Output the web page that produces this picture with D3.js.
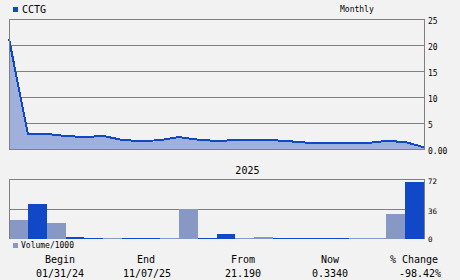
<!DOCTYPE html>
<html>
<head>
<meta charset="utf-8">
<script src="https://cdn.jsdelivr.net/npm/d3@7"></script>
<style>
  body { margin: 0; background: #f2f2f2; }
  svg { display: block; }
  text { font-family: "DejaVu Sans Mono", monospace; fill: #000; }
</style>
</head>
<body>
<div id="chart"></div>
<script>
// month-end points, Jan 24 .. Nov 25
var months = ["2024-01", "2024-02", "2024-03", "2024-04", "2024-05", "2024-06", "2024-07",
    "2024-08", "2024-09", "2024-10", "2024-11", "2024-12", "2025-01", "2025-02", "2025-03",
    "2025-04", "2025-05", "2025-06", "2025-07", "2025-08", "2025-09", "2025-10", "2025-11"];
var prices = [21.19, 2.9, 2.9, 2.5, 2.3, 2.5, 1.75, 1.5, 1.7, 2.3, 1.8, 1.55, 1.7, 1.7, 1.7,
    1.45, 1.15, 1.15, 1.15, 1.15, 1.55, 1.35, 0.334];
// volume/1000 per month, Feb 24 .. Nov 25
var volumes = [23, 42, 19, 2.4, 1.2, 1.2, 1.2, 1.2, 1.2, 36.5, 1.2, 6, 1.2, 2.4, 1.2, 1.2,
    1.2, 1.2, 1.2, 1.2, 30, 68];
var volumeUp = [1, 0, 1, 0, 0, 1, 0, 0, 1, 1, 0, 0, 1, 1, 0, 0, 0, 0, 1, 1, 1, 0];
var priceTicks = [0, 5, 10, 15, 20, 25];
var volumeTicks = [0, 36, 72];

var summaryLabels = ["Begin", "End", "From", "Now", "% Change"];
var summaryValues = ["01/31/24", "11/07/25", "21.190", "0.3340", "-98.42%"];

var W = 460, H = 280;
var blue = "#1048c8", lightFill = "#a0b0dc", lightBar = "#8798c4", grid = "#808080";

var svg = d3.select("#chart").append("svg")
    .attr("width", W)
    .attr("height", H);

svg.append("rect").attr("width", W).attr("height", H).attr("fill", "#f2f2f2");

var x = d3.scalePoint()
    .domain(months)
    .range([9, 424]);

var y = d3.scaleLinear()
    .domain([0, 25])
    .range([149, 19]);

var yVol = d3.scaleLinear()
    .domain([0, 72])
    .range([239, 179]);

// ---- price panel
var price = svg.append("g");

price.selectAll(".grid")
    .data(priceTicks)
    .enter()
    .append("line")
    .attr("x1", 9).attr("x2", 424)
    .attr("y1", function (d) { return Math.round(y(d)) + 0.5; })
    .attr("y2", function (d) { return Math.round(y(d)) + 0.5; })
    .attr("stroke", grid)
    .attr("shape-rendering", "crispEdges");

var pts = months.map(function (m, i) { return [m, prices[i]]; });

price.append("path")
    .datum(pts)
    .attr("d", d3.area()
        .x(function (d) { return x(d[0]); })
        .y0(y(0))
        .y1(function (d) { return y(d[1]) + 1; }))
    .attr("fill", lightFill)
    .attr("shape-rendering", "crispEdges");

price.append("path")
    .datum(pts)
    .attr("d", d3.line()
        .x(function (d) { return x(d[0]); })
        .y(function (d) { return y(d[1]); }))
    .attr("fill", "none")
    .attr("stroke", blue)
    .attr("stroke-width", 2)
    .attr("shape-rendering", "crispEdges");

price.append("path")
    .attr("d", "M9.5," + y(25) + "V" + (y(0) + 0.5) + "H424.5V" + y(25))
    .attr("fill", "none")
    .attr("stroke", grid)
    .attr("shape-rendering", "crispEdges");

price.selectAll(".ylab")
    .data(priceTicks)
    .enter()
    .append("text")
    .attr("x", 428)
    .attr("y", function (d) { return y(d) + 5; })
    .attr("font-size", 8)
    .text(function (d) { return d === 0 ? "0.00" : d; });

svg.append("rect")
    .attr("x", 13).attr("y", 7).attr("width", 5).attr("height", 5)
    .attr("fill", blue);
svg.append("text")
    .attr("x", 22).attr("y", 13)
    .attr("font-size", 10)
    .text("CCTG");
svg.append("text")
    .attr("x", 340).attr("y", 12)
    .attr("font-size", 8)
    .text("Monthly");

// ---- volume panel
var vol = svg.append("g");

vol.selectAll(".vgrid")
    .data(volumeTicks.filter(function (d) { return d > 0; }))
    .enter()
    .append("line")
    .attr("x1", 9).attr("x2", 424)
    .attr("y1", function (d) { return Math.round(yVol(d)) + 0.5; })
    .attr("y2", function (d) { return Math.round(yVol(d)) + 0.5; })
    .attr("stroke", grid)
    .attr("shape-rendering", "crispEdges");

vol.selectAll(".bar")
    .data(volumes)
    .enter()
    .append("rect")
    .attr("x", function (d, i) { return x(months[i]); })
    .attr("width", function (d, i) { return x(months[i + 1]) - x(months[i]); })
    .attr("y", function (d) { return yVol(d); })
    .attr("height", function (d) { return yVol(0) - yVol(d); })
    .attr("fill", function (d, i) { return volumeUp[i] ? lightBar : blue; })
    .attr("shape-rendering", "crispEdges");

vol.append("path")
    .attr("d", "M9.5,239V179.5H424.5V239")
    .attr("fill", "none")
    .attr("stroke", grid)
    .attr("shape-rendering", "crispEdges");

vol.selectAll(".vlab")
    .data(volumeTicks)
    .enter()
    .append("text")
    .attr("x", 428)
    .attr("y", function (d) { return yVol(d) + (d === 0 ? 3 : 5); })
    .attr("font-size", 7.5)
    .text(function (d) { return d; });

svg.append("text")
    .attr("x", x("2025-01"))
    .attr("y", 174)
    .attr("font-size", 10)
    .text("2025");

svg.append("rect")
    .attr("x", 13).attr("y", 243).attr("width", 5).attr("height", 5)
    .attr("fill", lightBar);
svg.append("text")
    .attr("x", 21).attr("y", 248)
    .attr("font-size", 8)
    .text("Volume/1000");

// ---- summary row
var labelX = [60, 146, 243, 330, 414];
var valueX = [60, 147, 243, 330, 420];

svg.selectAll(".slab")
    .data(summaryLabels)
    .enter()
    .append("text")
    .attr("x", function (d, i) { return labelX[i]; })
    .attr("y", 263)
    .attr("font-size", 10)
    .style("text-anchor", "middle")
    .text(function (d) { return d; });

svg.selectAll(".sval")
    .data(summaryValues)
    .enter()
    .append("text")
    .attr("x", function (d, i) { return valueX[i]; })
    .attr("y", 277)
    .attr("font-size", 10)
    .style("text-anchor", "middle")
    .text(function (d) { return d; });
</script>
</body>
</html>
